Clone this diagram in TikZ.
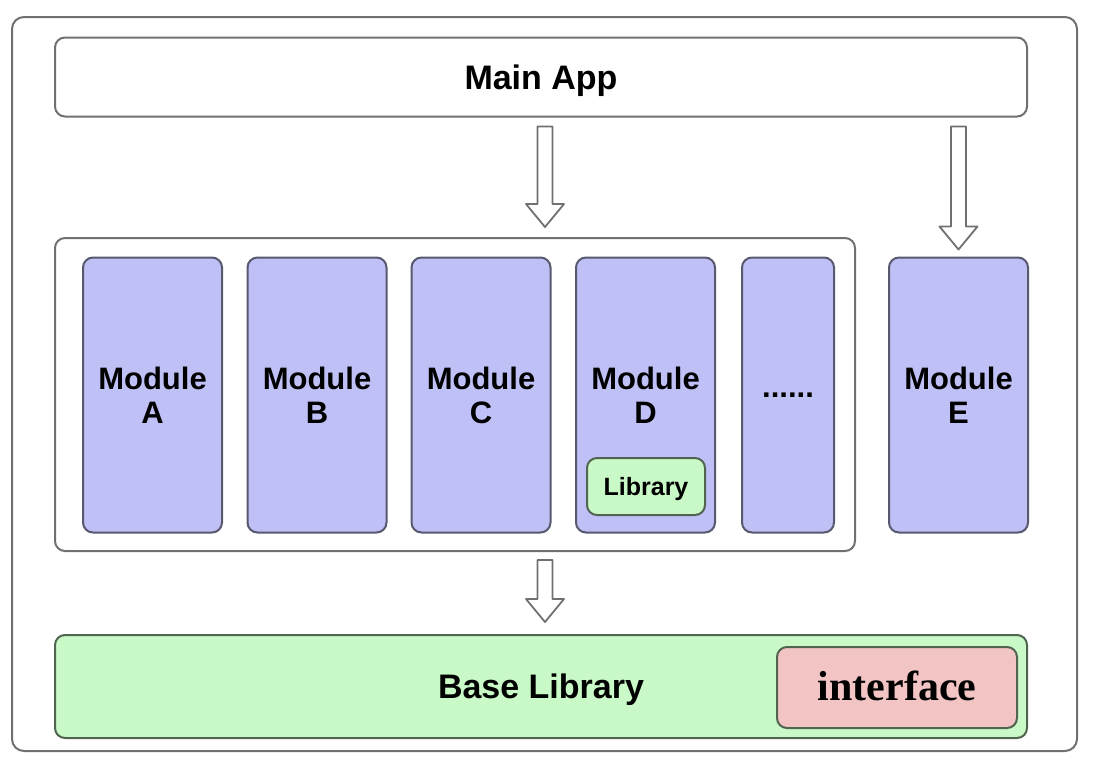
\documentclass[tikz,border=0pt]{standalone}
\usepackage{fontspec}
\setmainfont{Liberation Serif}
\setsansfont{Liberation Sans}
\usetikzlibrary{calc}
\definecolor{modfill}{RGB}{191,192,246}
\definecolor{modline}{RGB}{88,88,110}
\definecolor{libfill}{RGB}{200,249,198}
\definecolor{libline}{RGB}{80,100,80}
\definecolor{intfill}{RGB}{243,196,196}
\definecolor{boxline}{RGB}{112,112,112}
\begin{document}
\begin{tikzpicture}[x=1pt,y=-1pt,line width=2pt,
  box/.style={draw=boxline,rounded corners=10pt,inner sep=0pt,align=center,font=\sffamily\bfseries\fontsize{34}{40}\selectfont},
  modbox/.style={box,draw=modline,fill=modfill,minimum width=139pt,minimum height=275pt,
    font=\sffamily\bfseries\fontsize{31}{34}\selectfont},
  blockarrow/.style={draw=boxline,line width=1.8pt,line join=round,to path={
    let \p1=(\tikztostart),\p2=(\tikztotarget) in
    (\x1-7.5pt,\y1) -- (\x1+7.5pt,\y1) -- (\x1+7.5pt,\y2+23pt) -- (\x1+19pt,\y2+23pt)
    -- (\x1,\y2) -- (\x1-19pt,\y2+23pt) -- (\x1-7.5pt,\y2+23pt) -- cycle}}]
  \useasboundingbox (0,0) rectangle (1104,772);
  \draw[boxline,rounded corners=12pt] (12,17) rectangle (1077,751);
  \node[box,minimum width=972pt,minimum height=79pt,text depth=0pt] (main) at (541,77) {Main App};
  \node[box,minimum width=800pt,minimum height=313pt] (group) at (455,394.5) {};
  % modules
  \foreach \x/\n/\lab in {152.5/mA/A,317/mB/B,481/mC/C,645.5/mD/D,958.5/mE/E}
    \node[modbox] (\n) at (\x,395) {Module\\\lab};
  \node[modbox,minimum width=92pt] (more) at (788,395) {......};
  \node[box,draw=libline,fill=libfill,minimum width=118pt,minimum height=57pt,text depth=0pt,
    font=\sffamily\bfseries\fontsize{25}{30}\selectfont] (lib) at (646,486.5) {Library};
  \node[box,draw=libline,fill=libfill,minimum width=972pt,minimum height=103pt,text depth=0pt] (base) at (541,686.5) {Base Library};
  \node[box,draw=libline,fill=intfill,minimum width=240pt,minimum height=81pt,text depth=4pt,
    font=\rmfamily\bfseries\fontsize{42}{48}\selectfont] (intf) at (897,687.5) {interface};
  % arrows
  \coordinate (a1s) at ($(main.south -| 545,0)+(0,9)$);
  \coordinate (a1e) at ($(group.north -| 545,0)+(0,-10)$);
  \coordinate (a2s) at ($(main.south -| mE.center)+(0,9)$);
  \coordinate (a2e) at ($(mE.north)+(0,-7)$);
  \coordinate (a3s) at ($(group.south -| 545,0)+(0,8)$);
  \coordinate (a3e) at ($(base.north -| 545,0)+(0,-12)$);
  \draw[blockarrow] (a1s) to (a1e);
  \draw[blockarrow] (a2s) to (a2e);
  \draw[blockarrow] (a3s) to (a3e);
\end{tikzpicture}
\end{document}
